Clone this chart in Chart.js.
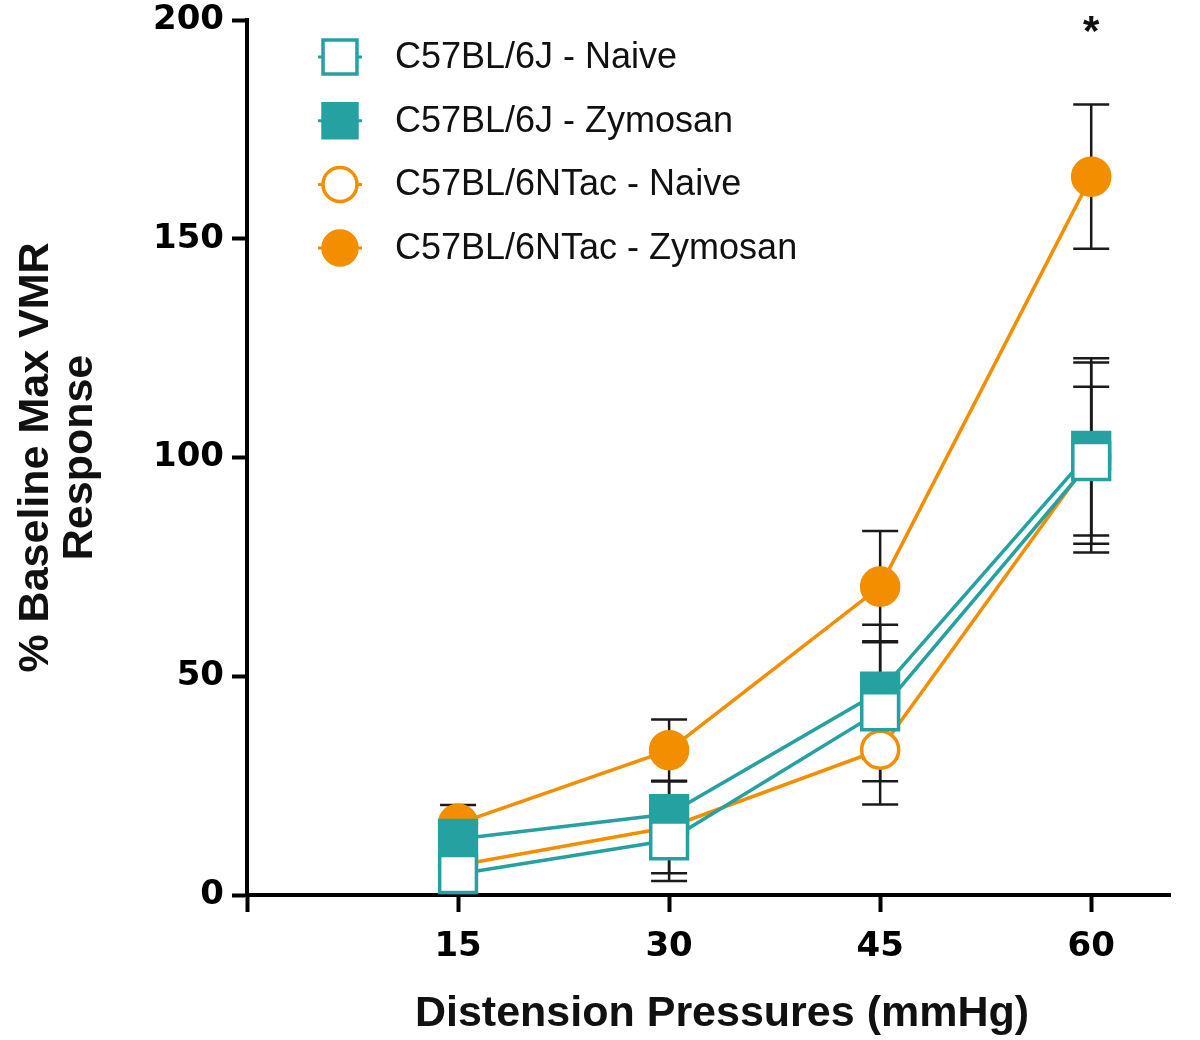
<!DOCTYPE html>
<html>
<head>
<meta charset="utf-8">
<script src="https://cdn.jsdelivr.net/npm/chart.js@4.4.1/dist/chart.umd.min.js"></script>
<style>
  html, body { margin: 0; padding: 0; background: #fff; }
  #wrap { width: 1200px; height: 1040px; }
</style>
</head>
<body>
<div id="wrap"><canvas id="vmrChart" width="1200" height="1040"></canvas></div>
<script>
/* VMR response vs distension pressure, 4 groups, mean +/- SEM */

const pressures = [15, 30, 45, 60];
const xTicks = [0, 15, 30, 45, 60];
const seriesNames = ['C57BL/6J - Naive', 'C57BL/6J - Zymosan', 'C57BL/6NTac - Naive', 'C57BL/6NTac - Zymosan'];
const xTitle = 'Distension Pressures (mmHg)';
const yTitle = ['% Baseline Max VMR', 'Response'];

const j6Naive = [4.8, 12.5, 42.0, 99.2];
const j6NaiveSem = [4.5, 9.3, 16.0, 17.0];
const j6Zym = [12.8, 18.5, 46.5, 101.5];
const j6ZymSem = [5.2, 7.5, 15.3, 21.2];
const ntacNaive = [6.8, 15.5, 33.2, 100.0];
const ntacNaiveSem = [4.6, 10.5, 12.5, 21.7];
const ntacZym = [16.3, 33.1, 70.5, 164.2];
const ntacZymSem = [4.3, 7.0, 12.7, 16.5];

const starAt = 60, starLevel = 197;   // significance mark

const TEAL = '#26a1a1';
const ORANGE = '#f28e00';

const semList = [j6NaiveSem, j6ZymSem, ntacNaiveSem, ntacZymSem];

function pts(vals){ return vals.map((v, i) => ({x: pressures[i], y: v})); }

function ds(label, vals, color, style, filled, radius){
  return {
    label,
    data: pts(vals),
    borderColor: color,
    borderWidth: 3.5,
    backgroundColor: filled ? color : '#fff',
    pointStyle: style,
    pointRadius: radius,
    pointHoverRadius: radius,
    pointBorderWidth: 3.5,
    pointBorderColor: color,
    pointBackgroundColor: filled ? color : '#fff',
    tension: 0,
    fill: false
  };
}

// error bars drawn under the lines/markers
const errorBars = {
  id: 'errorBars',
  beforeDatasetsDraw(chart){
    const {ctx, scales: {x, y}} = chart;
    ctx.save();
    ctx.strokeStyle = '#1a1a1a';
    ctx.lineWidth = 2.5;
    chart.data.datasets.forEach((d, i) => {
      d.data.forEach((p, j) => {
        const px = x.getPixelForValue(p.x);
        const top = y.getPixelForValue(p.y + semList[i][j]);
        const bot = y.getPixelForValue(Math.max(p.y - semList[i][j], 0));
        ctx.beginPath();
        ctx.moveTo(px, top); ctx.lineTo(px, bot);
        ctx.moveTo(px - 18, top); ctx.lineTo(px + 18, top);
        if (p.y - semList[i][j] > 0) { ctx.moveTo(px - 18, bot); ctx.lineTo(px + 18, bot); }
        ctx.stroke();
      });
    });
    ctx.restore();
  }
};

// legend in the top-left of the plot, x title, asterisk
const extras = {
  id: 'extras',
  afterDraw(chart){
    const ctx = chart.ctx;
    const {x, y} = chart.scales;
    const x0 = 340, y0 = 57, gap = 63.7;
    ctx.save();
    chart.data.datasets.forEach((d, i) => {
      const yy = y0 + i * gap;
      ctx.strokeStyle = d.borderColor;
      ctx.lineWidth = 3;
      ctx.beginPath();
      ctx.moveTo(x0 - 22, yy); ctx.lineTo(x0 + 22, yy);
      ctx.stroke();
      ctx.fillStyle = d.pointBackgroundColor;
      ctx.strokeStyle = d.borderColor;
      ctx.lineWidth = 3.5;
      Chart.helpers.drawPoint(ctx, {
        pointStyle: d.pointStyle,
        radius: d.pointStyle === 'rect' ? 24 : 17,
        borderWidth: 3.5,
        rotation: 0
      }, x0, yy);
      ctx.fillStyle = '#111';
      ctx.font = '36px "Liberation Sans", Arial, sans-serif';
      ctx.textBaseline = 'middle';
      ctx.textAlign = 'left';
      ctx.fillText(d.label, 395, yy + 1);
    });
    // x axis title
    ctx.font = 'bold 43px "Liberation Sans", Arial, sans-serif';
    ctx.textAlign = 'center';
    ctx.fillText(xTitle, 722, 1014);
    // asterisk over the 60 mmHg group
    ctx.font = 'bold 42px "Liberation Sans", Arial, sans-serif';
    ctx.fillText('*', x.getPixelForValue(starAt), y.getPixelForValue(starLevel));
    ctx.restore();
  }
};

const tickFont = { family: '"DejaVu Sans", sans-serif', size: 34, weight: 'bold', lineHeight: 1.0 };

new Chart(document.getElementById('vmrChart'), {
  type: 'line',
  data: {
    datasets: [
      ds(seriesNames[0], j6Naive, TEAL, 'rect', false, 26),
      ds(seriesNames[1], j6Zym, TEAL, 'rect', true, 26),
      ds(seriesNames[2], ntacNaive, ORANGE, 'circle', false, 18.5),
      ds(seriesNames[3], ntacZym, ORANGE, 'circle', true, 18.5)
    ]
  },
  options: {
    responsive: false,
    animation: false,
    layout: { autoPadding: false, padding: { top: 20, right: 30, left: 0, bottom: 0 } },
    plugins: { legend: { display: false }, tooltip: { enabled: false } },
    scales: {
      x: {
        type: 'linear',
        min: 0,
        max: 65.6,
        afterBuildTicks: s => { s.ticks = xTicks.map(v => ({value: v})); },
        afterFit: s => { s.height = 145; s.paddingLeft = 0; s.paddingRight = 0; },
        grid: { drawOnChartArea: false, tickLength: 17, tickWidth: 4, tickColor: '#000' },
        border: { width: 4, color: '#000' },
        ticks: {
          color: '#000', font: tickFont, padding: 18, maxRotation: 0,
          callback: v => v === 0 ? '' : v
        }
      },
      y: {
        min: 0,
        max: 200,
        afterFit: s => { s.width = 247; s.paddingTop = 0; s.paddingBottom = 0; },
        grid: { drawOnChartArea: false, tickLength: 15, tickWidth: 4, tickColor: '#000' },
        border: { width: 4, color: '#000' },
        ticks: { stepSize: 50, color: '#000', font: tickFont, padding: 8 },
        title: {
          display: true,
          text: yTitle,
          color: '#111',
          font: { family: '"Liberation Sans", Arial, sans-serif', size: 43, weight: 'bold', lineHeight: 1.02 },
          padding: { top: 14, bottom: 0 }
        }
      }
    }
  },
  plugins: [errorBars, extras]
});
</script>
</body>
</html>
